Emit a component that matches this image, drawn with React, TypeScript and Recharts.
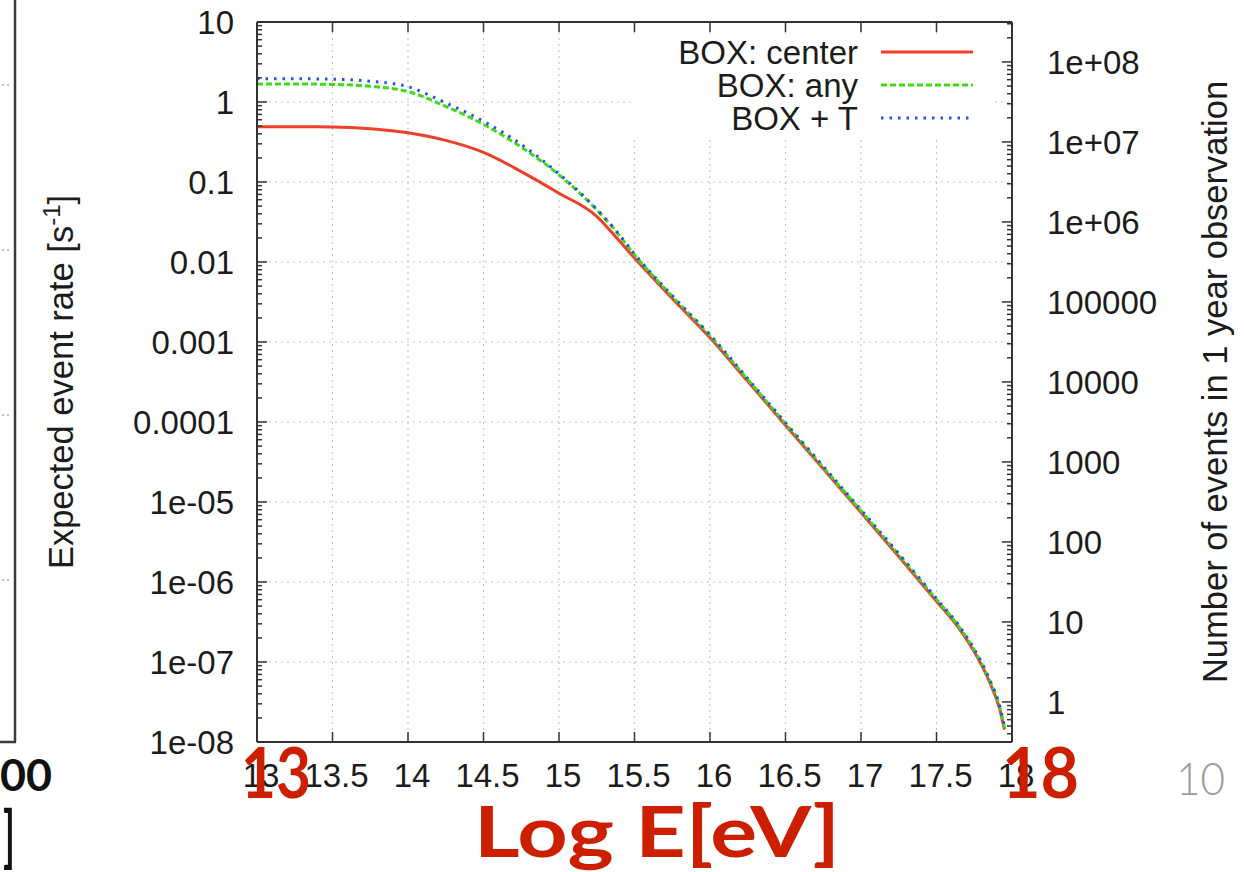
import React from 'react';
import { LineChart, Line, XAxis, YAxis, ReferenceLine, Legend } from 'recharts';

// ---- data ----
const energies = [13, 13.25, 13.5, 13.75, 14, 14.25, 14.5, 14.75, 15, 15.25, 15.375, 15.5, 15.75, 16, 16.25, 16.5, 16.75, 17, 17.25, 17.5, 17.65, 17.75, 17.85, 17.92, 17.95];
const boxCenter = [0.49, 0.49, 0.488, 0.462, 0.412, 0.331, 0.234, 0.135, 0.0724, 0.0372, 0.0207, 0.0112, 0.0035, 0.00113, 3.22e-4, 9.1e-5, 2.6e-5, 7.4e-6, 2.08e-6, 5.75e-7, 2.62e-7, 1.34e-7, 5.7e-8, 2.53e-8, 1.43e-8];
const boxAny = [1.68, 1.68, 1.66, 1.57, 1.35, 0.881, 0.525, 0.272, 0.123, 0.0447, 0.0245, 0.0123, 0.00372, 0.0012, 3.39e-4, 9.55e-5, 2.72e-5, 7.76e-6, 2.19e-6, 6.03e-7, 2.75e-7, 1.41e-7, 5.96e-8, 2.66e-8, 1.5e-8];
const boxPlusT = [1.95, 1.95, 1.93, 1.82, 1.55, 0.977, 0.575, 0.295, 0.126, 0.0457, 0.025, 0.0126, 0.0038, 0.00123, 3.5e-4, 9.8e-5, 2.8e-5, 8.0e-6, 2.26e-6, 6.2e-7, 2.83e-7, 1.45e-7, 6.15e-8, 2.74e-8, 1.55e-8];

const seriesNames = ['BOX: center', 'BOX: any', 'BOX + T'];

const xTicks = [13, 13.5, 14, 14.5, 15, 15.5, 16, 16.5, 17, 17.5, 18];
const xTickLabels = ['13', '13.5', '14', '14.5', '15', '15.5', '16', '16.5', '17', '17.5', '18'];
const xGrid = [13.5, 14, 14.5, 15, 15.5, 16, 16.5, 17, 17.5];

const rateDecades = [1e-8, 1e-7, 1e-6, 1e-5, 1e-4, 1e-3, 1e-2, 0.1, 1, 10];
const rateLabels = ['1e-08', '1e-07', '1e-06', '1e-05', '0.0001', '0.001', '0.01', '0.1', '1', '10'];
const rateGrid = [1e-7, 1e-6, 1e-5, 1e-4, 1e-3, 1e-2, 0.1, 1];

const countDecades = [1, 10, 100, 1e3, 1e4, 1e5, 1e6, 1e7, 1e8];
const countLabels = ['1', '10', '100', '1000', '10000', '100000', '1e+06', '1e+07', '1e+08'];

const SECONDS_PER_YEAR = 3.156e7;
const rateDomain = [1e-8, 10];
const countDomain = [rateDomain[0] * SECONDS_PER_YEAR, rateDomain[1] * SECONDS_PER_YEAR];

const minorSteps = [2, 3, 4, 5, 6, 7, 8, 9];
const rateMinor = rateDecades.slice(0, -1).flatMap((d) => minorSteps.map((m) => d * m));
const countMinor = [0.1, ...countDecades]
  .flatMap((d) => minorSteps.map((m) => d * m))
  .filter((v) => v > countDomain[0] && v < countDomain[1]);

const table = energies.map((E, i) => ({ E, center: boxCenter[i], any: boxAny[i], boxT: boxPlusT[i] }));

const series = [
  { key: 'center', name: seriesNames[0], color: '#ee3f28', dash: undefined as string | undefined },
  { key: 'any', name: seriesNames[1], color: '#3ddc16', dash: '6 3' },
  { key: 'boxT', name: seriesNames[2], color: '#2752ea', dash: '2.5 6' },
];

// ---- styles ----
const FONT = "'Liberation Sans', Arial, Helvetica, sans-serif";
const SLIDE_FONT = "Lato, 'Open Sans', sans-serif";
const TXT = '#1c1c1c';
const BORDER = '#333';
const FS = 33;

const labelFor = (vals: number[], labels: string[], v: number) => {
  const i = vals.findIndex((d) => Math.abs(d - v) / d < 1e-9);
  return i >= 0 ? labels[i] : null;
};

const BottomTick = (props: any) => {
  const { x, y, payload } = props;
  const lab = labelFor(xTicks, xTickLabels, payload.value);
  return (
    <g>
      <line x1={x} x2={x} y1={y} y2={y - 10} stroke={BORDER} strokeWidth={1.5} />
      <text x={x + 4} y={y + 45} textAnchor="middle" fontFamily={FONT} fontSize={FS} fill={TXT}>{lab}</text>
    </g>
  );
};

const TopTick = (props: any) => {
  const { x, y } = props;
  return <line x1={x} x2={x} y1={y} y2={y + 10} stroke={BORDER} strokeWidth={1.5} />;
};

const LeftTick = (props: any) => {
  const { x, y, payload } = props;
  const lab = labelFor(rateDecades, rateLabels, payload.value);
  const len = lab ? 10 : 5;
  return (
    <g>
      <line x1={x} x2={x + len} y1={y} y2={y} stroke={BORDER} strokeWidth={1.5} />
      {lab && (
        <text x={x - 23} y={y + 12} textAnchor="end" fontFamily={FONT} fontSize={FS} fill={TXT}>{lab}</text>
      )}
    </g>
  );
};

const RightTick = (props: any) => {
  const { x, y, payload } = props;
  const lab = labelFor(countDecades, countLabels, payload.value);
  const len = lab ? 10 : 5;
  return (
    <g>
      <line x1={x} x2={x - len} y1={y} y2={y} stroke={BORDER} strokeWidth={1.5} />
      {lab && (
        <text x={x + 35} y={y + 12} textAnchor="start" fontFamily={FONT} fontSize={FS} fill={TXT}>{lab}</text>
      )}
    </g>
  );
};

const RateTitle = (props: any) => {
  const vb = props.viewBox || { x: 256, y: 22, width: 1, height: 720 };
  const cx = vb.x + vb.width - 184;
  const cy = vb.y + vb.height / 2;
  return (
    <text transform={`rotate(-90, ${cx}, ${cy})`} x={cx} y={cy} textAnchor="middle" fontFamily={FONT} fontSize={34.5} fill={TXT}>
      Expected event rate [s<tspan dy={-13} fontSize={24}>-1</tspan><tspan dy={13}>]</tspan>
    </text>
  );
};

const CountTitle = (props: any) => {
  const vb = props.viewBox || { x: 1012, y: 22, width: 1, height: 720 };
  const cx = vb.x + 215;
  const cy = vb.y + vb.height / 2;
  return (
    <text transform={`rotate(-90, ${cx}, ${cy})`} x={cx} y={cy} textAnchor="middle" fontFamily={FONT} fontSize={34.5} fill={TXT}>
      Number of events in 1 year observation
    </text>
  );
};

const LegendContent = () => (
  <svg width={360} height={102} style={{ display: 'block' }}>
    <rect x={0} y={0} width={360} height={102} fill="#fff" />
    {series.map((s, i) => {
      const cy = 18 + 33 * i;
      return (
        <g key={s.key}>
          <text x={225} y={cy + 12} textAnchor="end" fontFamily={FONT} fontSize={FS} fill={TXT}>{s.name}</text>
          <line x1={248} x2={340} y1={cy} y2={cy} stroke={s.color} strokeWidth={3} strokeDasharray={s.dash} />
        </g>
      );
    })}
  </svg>
);

export default function App() {
  return (
    <div style={{ position: 'absolute', left: 0, top: 0, width: 1244, height: 872, background: '#fff', overflow: 'hidden' }}>
      <LineChart width={1244} height={872} data={table} margin={{ top: 21, right: 231, bottom: 129, left: 256 }}>
        <XAxis
          xAxisId="bottom" dataKey="E" type="number" domain={[13, 18]} ticks={xTicks} interval={0}
          allowDataOverflow height={1} tickSize={0} tickMargin={0} tickLine={false}
          axisLine={{ stroke: BORDER, strokeWidth: 2 }} tick={<BottomTick />}
        />
        <XAxis
          xAxisId="top" orientation="top" dataKey="E" type="number" domain={[13, 18]} ticks={xTicks} interval={0}
          allowDataOverflow height={1} tickSize={0} tickMargin={0} tickLine={false}
          axisLine={{ stroke: BORDER, strokeWidth: 2 }} tick={<TopTick />}
        />
        <YAxis
          yAxisId="rate" type="number" scale="log" domain={rateDomain} ticks={[...rateDecades, ...rateMinor]} interval={0}
          allowDataOverflow width={1} tickSize={0} tickMargin={0} tickLine={false}
          axisLine={{ stroke: BORDER, strokeWidth: 2 }} tick={<LeftTick />}
          label={{ content: (p: any) => <RateTitle {...p} /> }}
        />
        <YAxis
          yAxisId="count" orientation="right" type="number" scale="log" domain={countDomain}
          ticks={[...countDecades, ...countMinor]} interval={0}
          allowDataOverflow width={1} tickSize={0} tickMargin={0} tickLine={false}
          axisLine={{ stroke: BORDER, strokeWidth: 2 }} tick={<RightTick />}
          label={{ content: (p: any) => <CountTitle {...p} /> }}
        />
        {xGrid.map((v) => (
          <ReferenceLine key={'gx' + v} x={v} xAxisId="bottom" yAxisId="rate" stroke="#c6c6c6" strokeWidth={1.2} strokeDasharray="2 4" />
        ))}
        {rateGrid.map((v) => (
          <ReferenceLine key={'gy' + v} y={v} xAxisId="bottom" yAxisId="rate" stroke="#c6c6c6" strokeWidth={1.2} strokeDasharray="2 4" />
        ))}
        {series.map((s) => (
          <Line
            key={s.key} xAxisId="bottom" yAxisId="rate" type="monotone" dataKey={s.key} name={s.name}
            stroke={s.color} strokeWidth={3} strokeDasharray={s.dash} dot={false} activeDot={false}
            isAnimationActive={false}
          />
        ))}
        <Legend
          layout="horizontal" verticalAlign="middle" align="center"
          wrapperStyle={{ left: 633, top: 34, width: 360, height: 102 }}
          content={() => <LegendContent />}
        />
      </LineChart>
      <svg width={1244} height={872} style={{ position: 'absolute', left: 0, top: 0, pointerEvents: 'none' }}>
        {/* remnant of the previous slide chart */}
        <line x1={15} x2={15} y1={0} y2={742} stroke="#3a3a3a" strokeWidth={2.5} />
        <line x1={0} x2={16} y1={742} y2={742} stroke="#3a3a3a" strokeWidth={2.5} />
        {[85, 250, 415, 580].map((y) => (
          <line key={y} x1={2} x2={12} y1={y} y2={y} stroke="#aaa" strokeWidth={1.5} strokeDasharray="2 3" />
        ))}
        <text x={0} y={791} textLength={52} lengthAdjust="spacingAndGlyphs" fontFamily={SLIDE_FONT} fontWeight={700} fontSize={44} fill="#111">00</text>
        <text x={3} y={860} textLength={12} lengthAdjust="spacingAndGlyphs" fontFamily={SLIDE_FONT} fontWeight={700} fontSize={66} fill="#111">]</text>
        {/* slide annotations */}
        <text x={241} y={798} textLength={70} lengthAdjust="spacingAndGlyphs" fontFamily={SLIDE_FONT} fontWeight={700} fontSize={70} fill="#cc1f00">13</text>
        <text x={1002} y={798} textLength={77} lengthAdjust="spacingAndGlyphs" fontFamily={SLIDE_FONT} fontWeight={700} fontSize={70} fill="#cc1f00">18</text>
        <text x={474} y={857} textLength={366} lengthAdjust="spacingAndGlyphs" fontFamily={SLIDE_FONT} fontWeight={700} fontSize={70} fill="#cc1f00">Log E[eV]</text>
        <text x={1176} y={795} textLength={49} lengthAdjust="spacingAndGlyphs" fontFamily={SLIDE_FONT} fontWeight={300} fontSize={46} fill="#9b9b9b">10</text>
      </svg>
    </div>
  );
}
